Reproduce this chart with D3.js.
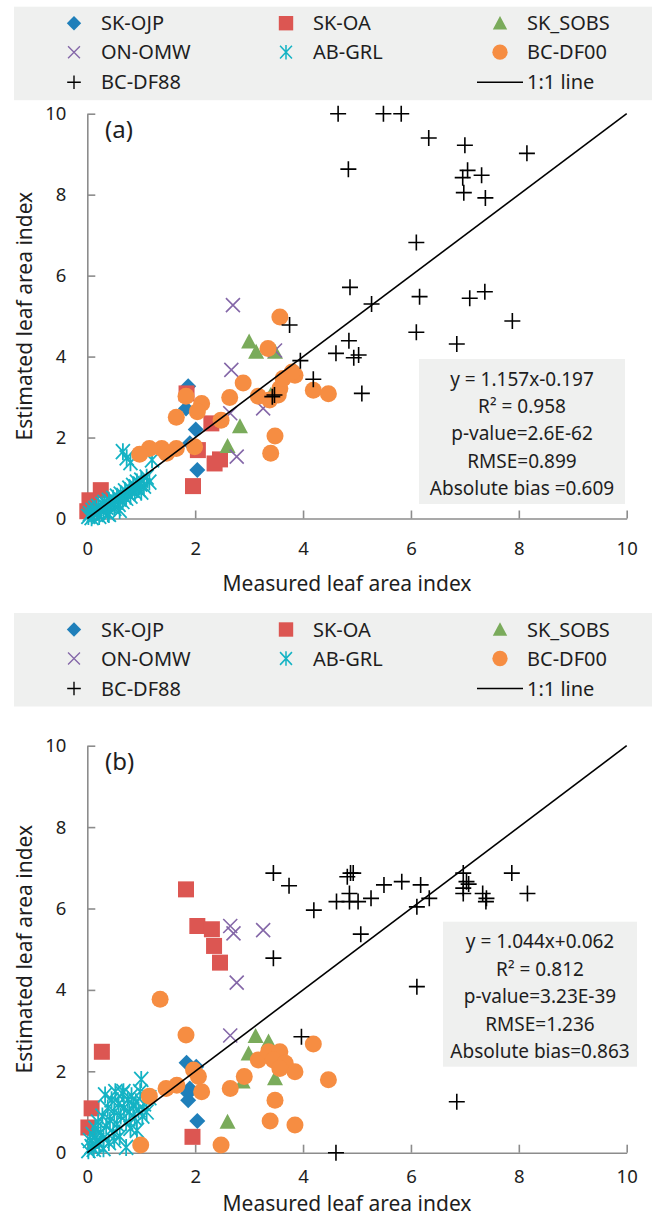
<!DOCTYPE html>
<html>
<head>
<meta charset="utf-8">
<script src="https://cdn.jsdelivr.net/npm/d3@7"></script>
<style>
  body { margin: 0; background: #fff; }
  svg text { font-family: "Noto Sans", "Open Sans", sans-serif; fill: #1e1e1e; }
</style>
</head>
<body>
<svg id="chart" width="656" height="1216"></svg>
<script>
// site names, in legend / draw order
var sites = ["SK-OJP", "SK-OA", "SK_SOBS", "ON-OMW", "AB-GRL", "BC-DF00", "BC-DF88"];
var xTicks = [0, 2, 4, 6, 8, 10];
var yTicks = [0, 2, 4, 6, 8, 10];

// ---- panel (a): [measured, estimated] ----
var a_SK_OJP = [[1.87,3.27],[1.83,2.72],[2.01,2.20],[1.90,1.86],[2.04,1.20]];
var a_SK_OA = [[1.84,3.09],[2.30,2.35],[2.05,1.69],[2.36,1.36],[2.46,1.46],[1.96,0.80],[0.25,0.70],[0.04,0.45],[0.00,0.18]];
var a_SK_SOBS = [[3.00,4.37],[3.13,4.12],[3.48,4.12],[2.83,2.28],[2.60,1.79],[3.40,3.05]];
var a_ON_OMW = [[2.70,5.27],[2.67,3.67],[3.48,4.15],[2.65,2.60],[3.26,2.72],[2.77,1.53]];
var a_AB_GRL = [[0.02,0.05],[0.05,0.12],[0.08,0.02],[0.10,0.20],[0.12,0.10],[0.15,0.25],[0.18,0.15],[0.20,0.30],
  [0.22,0.05],[0.25,0.22],[0.28,0.35],[0.30,0.18],[0.32,0.40],[0.35,0.28],[0.38,0.12],[0.40,0.45],[0.42,0.30],
  [0.45,0.38],[0.48,0.50],[0.50,0.25],[0.52,0.42],[0.55,0.55],[0.58,0.35],[0.60,0.48],[0.62,0.60],[0.65,0.42],
  [0.68,0.55],[0.70,0.68],[0.72,0.50],[0.75,0.62],[0.78,0.75],[0.80,0.55],[0.82,0.70],[0.85,0.82],[0.88,0.65],
  [0.90,0.78],[0.92,0.90],[0.95,0.72],[0.98,0.85],[1.00,0.95],[1.05,0.80],[1.10,1.02],[1.15,0.90],[1.20,1.45],
  [0.66,1.65],[0.73,1.50],[0.80,1.38],[1.00,0.65],[0.60,0.20],[0.40,0.10]];
var a_BC_DF00 = [[3.57,4.98],[3.35,4.20],[2.89,3.35],[2.64,2.99],[1.83,3.02],[2.12,2.84],[2.04,2.64],[1.65,2.50],
  [2.48,2.43],[3.17,3.02],[3.38,2.93],[3.54,3.05],[3.57,3.21],[3.63,3.46],[3.85,3.54],[3.80,3.62],[4.19,3.17],
  [4.47,3.08],[3.48,2.04],[3.40,1.61],[1.99,1.77],[1.65,1.73],[1.38,1.73],[1.15,1.73],[0.97,1.59],[1.47,1.61]];
var a_BC_DF88 = [[4.65,10.0],[5.49,10.0],[5.82,10.0],[6.33,9.40],[7.00,9.22],[8.15,9.02],[4.84,8.63],[7.05,8.60],
  [6.96,8.42],[7.31,8.48],[6.98,8.05],[7.38,7.92],[6.10,6.82],[4.87,5.71],[5.27,5.30],[6.16,5.48],[7.09,5.44],
  [7.37,5.60],[7.88,4.88],[6.10,4.60],[6.85,4.31],[4.85,4.39],[4.61,4.08],[4.94,3.97],[5.03,4.04],[3.75,4.78],
  [3.95,3.90],[5.09,3.09],[4.19,3.44],[3.43,3.01],[3.47,3.05]];
var a_stats = ["y = 1.157x-0.197", "R\u00b2 = 0.958", "p-value=2.6E-62", "RMSE=0.899", "Absolute bias =0.609"];

// ---- panel (b) ----
var b_SK_OJP = [[1.84,2.21],[2.02,2.11],[1.90,1.58],[1.87,1.46],[1.87,1.29],[2.04,0.78]];
var b_SK_OA = [[1.83,6.47],[2.04,5.57],[2.31,5.49],[2.35,5.08],[2.46,4.67],[0.27,2.48],[0.08,1.09],[0.02,0.62],[1.95,0.39]];
var b_SK_SOBS = [[3.12,2.87],[3.36,2.73],[2.99,2.44],[2.88,1.75],[3.48,1.83],[2.60,0.76]];
var b_ON_OMW = [[2.65,5.57],[2.71,5.39],[3.26,5.47],[2.77,4.18],[2.65,2.88]];
var b_AB_GRL = [[0.02,0.05],[0.05,0.30],[0.08,0.15],[0.10,0.45],[0.12,0.08],[0.15,0.60],[0.18,0.30],[0.20,0.75],
  [0.22,0.20],[0.25,0.50],[0.28,0.90],[0.30,0.35],[0.33,1.42],[0.35,0.65],[0.38,1.10],[0.40,0.25],[0.42,0.80],
  [0.45,1.30],[0.48,0.50],[0.50,1.00],[0.52,1.50],[0.55,0.70],[0.58,1.20],[0.60,0.40],[0.62,0.90],[0.65,1.45],
  [0.67,1.50],[0.68,1.10],[0.72,0.13],[0.72,0.75],[0.75,1.30],[0.78,1.00],[0.80,0.60],[0.82,1.40],[0.85,1.15],
  [0.88,0.85],[0.90,1.25],[0.92,0.55],[0.95,1.05],[0.98,1.50],[1.00,1.80],[1.02,0.90],[1.05,1.20],[1.10,1.00],
  [1.15,1.35],[0.30,0.10],[0.15,0.20],[0.50,0.30]];
var b_BC_DF00 = [[1.35,3.77],[1.83,2.89],[1.97,2.03],[2.06,1.87],[2.12,1.50],[1.66,1.66],[1.46,1.58],[1.15,1.39],
  [2.65,1.58],[2.91,1.87],[3.17,2.28],[3.36,2.48],[3.57,2.48],[3.45,2.28],[3.67,2.20],[3.57,2.07],[3.85,1.99],
  [4.19,2.67],[4.47,1.79],[3.48,1.29],[3.39,0.78],[3.85,0.68],[2.48,0.19],[0.99,0.19]];
var b_BC_DF88 = [[3.45,6.87],[3.74,6.56],[4.20,5.96],[3.45,4.78],[3.97,2.85],[4.61,0.00],[4.62,6.17],[4.82,6.78],
  [4.88,6.87],[4.93,6.87],[4.86,6.37],[4.86,6.17],[5.02,6.17],[5.26,6.25],[5.50,6.58],[5.83,6.66],[6.18,6.58],
  [6.34,6.25],[6.11,6.04],[5.07,5.37],[6.11,4.08],[6.85,1.25],[6.97,6.87],[7.03,6.66],[7.07,6.60],[6.97,6.50],
  [6.97,6.37],[7.33,6.37],[7.40,6.25],[7.39,6.17],[7.87,6.87],[8.16,6.37]];
var b_stats = ["y = 1.044x+0.062", "R\u00b2 = 0.812", "p-value=3.23E-39", "RMSE=1.236", "Absolute bias=0.863"];

// marker style per site
var style = {
  "SK-OJP":  {shape: "diamond",  color: "#1f7fba"},
  "SK-OA":   {shape: "square",   color: "#dc5652"},
  "SK_SOBS": {shape: "triangle", color: "#7aab5b"},
  "ON-OMW":  {shape: "x",        color: "#8467a8"},
  "AB-GRL":  {shape: "star",     color: "#14b3c4"},
  "BC-DF00": {shape: "circle",   color: "#f68d42"},
  "BC-DF88": {shape: "plus",     color: "#000000"}
};

function markerPath(shape) {
  switch (shape) {
    case "diamond": return "M0,-8L8,0L0,8L-8,0Z";
    case "square": return "M-8,-8H8V8H-8Z";
    case "triangle": return "M0,-8L8,7H-8Z";
    case "circle": return "M8.5,0A8.5,8.5 0 1,1 -8.5,0A8.5,8.5 0 1,1 8.5,0Z";
    case "x": return "M-7,-7L7,7M-7,7L7,-7";
    case "star": return "M-7,-7.5L7,7.5M-7,7.5L7,-7.5M0,-8.5V8.5";
    case "plus": return "M-8,0H8M0,-8V8";
  }
}
function isStroke(shape) { return shape == "x" || shape == "star" || shape == "plus"; }

function addMarker(sel, site) {
  var st = style[site];
  return sel.append("path")
    .attr("d", markerPath(st.shape))
    .attr("fill", isStroke(st.shape) ? "none" : st.color)
    .attr("stroke", isStroke(st.shape) ? st.color : "none")
    .attr("stroke-width", st.shape == "star" ? 1.8 : 1.6);
}

var svg = d3.select("#chart");
var x = d3.scaleLinear().domain([0, 10]).range([87.3, 626.7]);

function drawLegend(top) {
  var g = svg.append("g").attr("transform", "translate(0," + top + ")");
  g.append("rect").attr("x", 14).attr("y", 0).attr("width", 638).attr("height", 93.5).attr("fill", "#eff0ef");
  var colX = [74, 286, 500], rowY = [16.5, 45.5, 75.5];
  sites.forEach(function(s, i) {
    var cx = colX[i % 3], cy = rowY[Math.floor(i / 3)];
    addMarker(g.append("g").attr("transform", "translate(" + cx + "," + cy + ")"), s)
      .attr("transform", isStroke(style[s].shape) ? "scale(0.85)" : "scale(0.9)");
    g.append("text").attr("x", cx + 27).attr("y", cy).attr("dy", "0.35em")
      .attr("font-size", 20).text(s);
  });
  g.append("line").attr("x1", 477).attr("x2", 523).attr("y1", rowY[2]).attr("y2", rowY[2])
    .attr("stroke", "#000").attr("stroke-width", 1.5);
  g.append("text").attr("x", 527).attr("y", rowY[2]).attr("dy", "0.35em").attr("font-size", 20).text("1:1 line");
}

function drawPanel(opts) {
  var y = d3.scaleLinear().domain([0, 10]).range([opts.y0, opts.y10]);
  var g = svg.append("g");

  // axes, ticks pointing inward
  var xa = g.append("g").attr("transform", "translate(0," + opts.y0 + ")")
    .call(d3.axisBottom(x).tickValues(xTicks).tickSize(-8).tickSizeOuter(0).tickPadding(opts.xPad));
  var ya = g.append("g").attr("transform", "translate(" + x(0) + ",0)")
    .call(d3.axisLeft(y).tickValues(yTicks).tickSize(-8).tickSizeOuter(0).tickPadding(21));
  [xa, ya].forEach(function(a) {
    a.select(".domain").attr("stroke", "#8c8c8c").attr("stroke-width", 1.6);
    a.selectAll(".tick line").attr("stroke", "#8c8c8c").attr("stroke-width", 1.6);
    a.selectAll(".tick text").attr("font-size", 18.5).attr("font-family", "'Noto Sans', 'Open Sans', sans-serif").attr("fill", "#1e1e1e");
  });

  // series
  sites.forEach(function(s) {
    g.append("g").selectAll("g").data(opts.series[s]).enter().append("g")
      .attr("transform", function(d) { return "translate(" + x(d[0]) + "," + y(d[1]) + ")"; })
      .each(function() { addMarker(d3.select(this), s); });
  });

  // 1:1 line
  g.append("line").attr("x1", x(0)).attr("y1", y(0)).attr("x2", x(10)).attr("y2", y(10))
    .attr("stroke", "#000").attr("stroke-width", 1.6);

  // stats box
  var b = opts.box;
  g.append("rect").attr("x", b[0]).attr("y", b[1]).attr("width", b[2] - b[0]).attr("height", b[3] - b[1]).attr("fill", "#eff0ef");
  opts.stats.forEach(function(t, i) {
    g.append("text").attr("x", (b[0] + b[2]) / 2).attr("y", b[1] + 20 + i * 27.4).attr("dy", "0.35em")
      .attr("text-anchor", "middle").attr("font-size", 19).text(t);
  });

  // labels
  g.append("text").attr("x", 105).attr("y", y(9.6)).attr("dy", "0.35em").attr("font-size", 24).text(opts.label);
  g.append("text").attr("x", 347).attr("y", opts.xTitleY).attr("dy", "0.35em").attr("text-anchor", "middle")
    .attr("font-size", 21).text("Measured leaf area index");
  g.append("text").attr("transform", "translate(25," + (opts.y0 + opts.y10) / 2 + ") rotate(-90)")
    .attr("dy", "0.35em").attr("text-anchor", "middle").attr("font-size", 21).text("Estimated leaf area index");
}

drawLegend(6.7);
drawPanel({
  y0: 518.5, y10: 113.7, xPad: 23, xTitleY: 584, label: "(a)",
  box: [419, 359, 625, 504], stats: a_stats,
  series: {"SK-OJP": a_SK_OJP, "SK-OA": a_SK_OA, "SK_SOBS": a_SK_SOBS, "ON-OMW": a_ON_OMW,
           "AB-GRL": a_AB_GRL, "BC-DF00": a_BC_DF00, "BC-DF88": a_BC_DF88}
});

drawLegend(613);
drawPanel({
  y0: 1152.7, y10: 745.7, xPad: 17, xTitleY: 1204, label: "(b)",
  box: [443, 921.7, 637, 1066.7], stats: b_stats,
  series: {"SK-OJP": b_SK_OJP, "SK-OA": b_SK_OA, "SK_SOBS": b_SK_SOBS, "ON-OMW": b_ON_OMW,
           "AB-GRL": b_AB_GRL, "BC-DF00": b_BC_DF00, "BC-DF88": b_BC_DF88}
});
</script>
</body>
</html>
